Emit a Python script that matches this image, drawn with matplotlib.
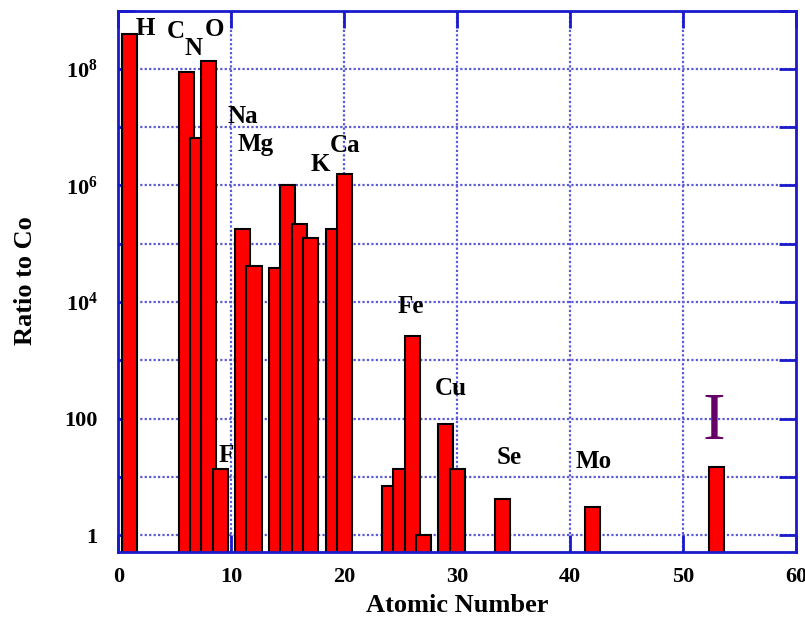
import matplotlib
matplotlib.use("Agg")
import matplotlib.pyplot as plt
import numpy as np
from matplotlib.ticker import FixedLocator, NullFormatter

# ---- data ----
atomic_numbers = [1, 6, 7, 8, 9, 11, 12, 14, 15, 16, 17, 19, 20, 24, 25, 26, 27, 29, 30, 34, 42, 53]
ratio_to_co = [3.9e8, 8.9e7, 6.5e6, 1.35e8, 13.7, 1.8e5, 4.1e4, 3.85e4, 1.0e6, 2.16e5, 1.26e5,
               1.8e5, 1.6e6, 7.0, 13.6, 2660, 1.0, 81, 13.6, 4.1, 3.1, 14.7]

label_texts = ["H", "C", "N", "O", "Na", "Mg", "K", "Ca", "F", "Fe", "Cu", "Se", "Mo"]
label_x = [2.39, 5.04, 6.68, 8.53, 11.01, 12.16, 17.9, 20.03, 9.5, 25.86, 29.4, 34.6, 42.04]
label_logy = [8.73, 8.69, 8.39, 8.71, 7.22, 6.74, 6.40, 6.72, 1.41, 3.96, 2.56, 1.37, 1.30]

iodine_label = "I"
iodine_pos = (52.74, 2.06)

xticks = [0, 10, 20, 30, 40, 50, 60]
yticks_major = [1, 1e2, 1e4, 1e6, 1e8]
ytick_labels = ["1", "100", r"$\mathbf{10^{4}}$", r"$\mathbf{10^{6}}$", r"$\mathbf{10^{8}}$"]
yticks_all = [10.0 ** k for k in range(0, 10)]

# ---- style ----
plt.rcParams["font.family"] = ["Liberation Serif", "DejaVu Serif"]
plt.rcParams["mathtext.fontset"] = "custom"
plt.rcParams["mathtext.rm"] = "Liberation Serif:bold"
plt.rcParams["mathtext.bf"] = "Liberation Serif:bold"
plt.rcParams["mathtext.it"] = "Liberation Serif:bold"

blue = "#1a1acc"
grid_blue = "#5a5ad8"

fig = plt.figure(figsize=(8.05, 6.19), dpi=100)
ax = fig.add_axes([0.1472, 0.1087, 0.9888 - 0.1472, 0.983 - 0.1087])

ax.set_yscale("log")
ax.set_xlim(0, 60)
ax.set_ylim(0.52, 1e9)

ax.bar(atomic_numbers, ratio_to_co, width=1.33, bottom=0.0001, color="#ff0000",
       edgecolor="black", linewidth=1.5, zorder=3)

# grid
for xv in [10, 20, 30, 40, 50]:
    ax.axvline(xv, color=grid_blue, linestyle=(0, (1, 1)), linewidth=1.6, zorder=1)
for yv in yticks_all[:-1]:
    ax.axhline(yv, color=grid_blue, linestyle=(0, (1, 1)), linewidth=1.6, zorder=1)

# ticks
ax.xaxis.set_major_locator(FixedLocator(xticks))
ax.set_xticklabels([str(v) for v in xticks])
ax.yaxis.set_major_locator(FixedLocator(yticks_major))
ax.set_yticklabels(ytick_labels)
ax.yaxis.set_minor_locator(FixedLocator([v for v in yticks_all if v not in yticks_major]))
ax.yaxis.set_minor_formatter(NullFormatter())
ax.xaxis.set_minor_locator(FixedLocator([]))

ax.tick_params(axis="both", which="both", direction="in", length=12, width=2,
               color=blue, top=True, right=True, zorder=4)
ax.tick_params(axis="x", which="major", labelsize=16, pad=11)
ax.tick_params(axis="y", which="major", labelsize=16, pad=15)
for lab in ax.get_xticklabels() + ax.get_yticklabels():
    lab.set_fontweight("bold")

for sp in ax.spines.values():
    sp.set_color(blue)
    sp.set_linewidth(2)
    sp.set_zorder(5)

ax.set_xlabel("Atomic Number", fontsize=19, fontweight="bold", labelpad=5)
ax.set_ylabel("Ratio to Co", fontsize=19, fontweight="bold", labelpad=20)

for t, x, ly in zip(label_texts, label_x, label_logy):
    ax.text(x, 10 ** ly, t, fontsize=18, fontweight="bold", ha="center", va="center_baseline",
            zorder=6)

ax.text(iodine_pos[0], 10 ** iodine_pos[1], iodine_label, fontsize=49, color="#660066",
        ha="center", va="center_baseline", zorder=6)

fig.savefig("out.png", dpi=100)
